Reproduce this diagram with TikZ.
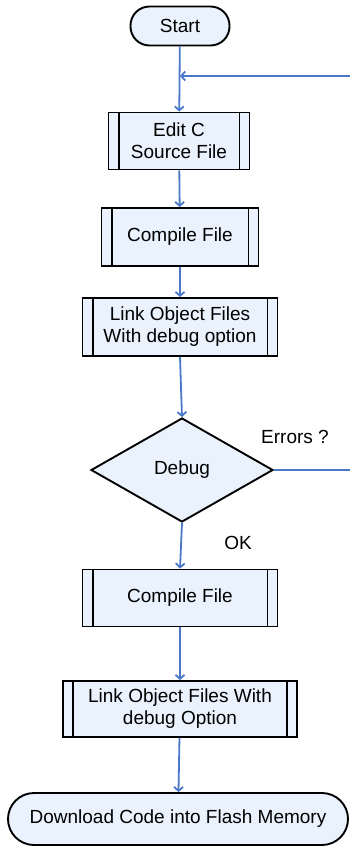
\documentclass[tikz,border=0pt]{standalone}
\usepackage{fontspec}
\setmainfont{Liberation Sans}
\usepackage{tikz}
\usetikzlibrary{shapes.geometric,arrows.meta}

\definecolor{boxfill}{HTML}{EAF3FD}
\definecolor{flowblue}{HTML}{4A78C8}

\begin{document}
\begin{tikzpicture}[x=1pt,y=-1pt,
        every node/.style={font=\fontsize{19}{22}\selectfont},
        term/.style={draw,line width=1.9pt,fill=boxfill,rounded corners=#1,inner sep=0pt},
        proc/.style={draw,line width=1.9pt,fill=boxfill,inner sep=0pt,align=center},
        dec/.style={draw,line width=1.9pt,fill=boxfill,diamond,aspect=1.75,inner sep=0pt,
            minimum width=182pt,minimum height=104pt},
        flow/.style={flowblue,line width=1.8pt},
        tip/.style={flow,-{Straight Barb[length=4pt,width=9pt]}}]
        \useasboundingbox (0,0) rectangle (350,846);

        \node[term=19pt,minimum width=99pt,minimum height=39pt] (start) at (180,26) {Start};
        \node[proc,minimum width=141pt,minimum height=57pt] (edit) at (179,141) {Edit C\\Source File};
        \node[proc,minimum width=157pt,minimum height=58pt] (comp1) at (180,237) {Compile File};
        \node[proc,minimum width=195pt,minimum height=58pt] (link1) at (180,327) {Link Object Files\\With debug option};
        \node[dec] (debug) at (182,470) {Debug};
        \node[proc,minimum width=195pt,minimum height=57pt] (comp2) at (180,598) {Compile File};
        \node[proc,minimum width=234pt,minimum height=56pt] (link2) at (180,709) {Link Object Files With\\debug Option};
        \node[term=26pt,minimum width=340pt,minimum height=52pt] (down) at (178,819) {Download Code into Flash Memory};

        \foreach \b in {edit,comp1,link1,comp2,link2}
            \draw[line width=1.9pt] ([xshift=11pt]\b.north west) -- ([xshift=11pt]\b.south west)
                ([xshift=-11pt]\b.north east) -- ([xshift=-11pt]\b.south east);

        \node (err) at (295,437) {Errors ?};
        \node (ok) at (238,543) {OK};

        \coordinate (eR) at (350,470);
        \coordinate (lR) at (350,76);
        \coordinate (lJ) at (180,76);

        \draw[tip] (start) -- (edit);
        \draw[tip] (edit) -- (comp1);
        \draw[tip] (comp1) -- (link1);
        \draw[tip] (link1.south) -- (debug.north);
        \draw[tip] (debug.south) -- (comp2.north);
        \draw[tip] (comp2) -- (link2);
        \draw[tip] (link2) -- (down);
        \draw[flow] (debug.east) -- (eR);
        \draw[tip] (lR) -- (lJ);
\end{tikzpicture}
\end{document}
